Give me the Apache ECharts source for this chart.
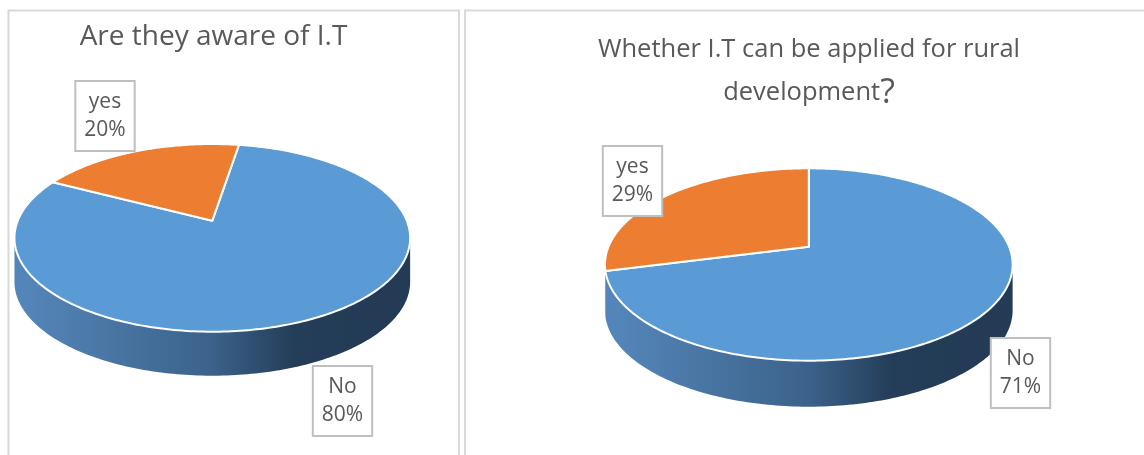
<!DOCTYPE html>
<html>
<head>
<meta charset="utf-8">
<title>IT awareness survey</title>
<script src="https://cdn.jsdelivr.net/npm/echarts@6/dist/echarts.min.js"></script>
<style>
  html, body { margin: 0; padding: 0; background: #ffffff; }
  #chart { width: 1144px; height: 455px; }
</style>
</head>
<body>
<div id="chart"></div>
<script>
// Survey answers (percent of respondents)
const categories = ['No', 'yes'];
const awareValues = [80, 20];
const ruralValues = [71, 29];
const awareTitle = 'Are they aware of I.T';
const ruralTitle = 'Whether I.T can be applied for rural\ndevelopment{q|?}';

// Layout of each tilted pie: centre, radii, perspective, thickness, first-slice angle
const pieLayouts = [
  { cx: 212.3, cy: 220.7, rx: 194.5, ry: 90.7, q: 0.183, depth: 44, start: 279.3,
    labels: [[342.5, 401], [105, 116]] },
  { cx: 808.8, cy: 246.7, rx: 200.3, ry: 92.9, q: 0.185, depth: 46, start: 270,
    labels: [[1020.5, 373], [632.5, 181]] }
];

const topColors = ['#5B9BD5', '#ED7D31'];
const wallStops = [
  [[0, '#5485B8'], [0.5, '#3B628A'], [0.72, '#243D58'], [1, '#233B55']],
  [[0, '#C56A2C'], [0.5, '#9A5220'], [0.72, '#6E3914'], [1, '#6A3713']]
];
const textColor = '#595959';
const fontFamily = '"Open Sans", "Noto Sans", sans-serif';

// Point on the rim of a tilted disc; angle in degrees, clockwise from 3 o'clock
function project(g, deg, dz) {
  const t = deg * Math.PI / 180;
  const s = Math.sin(t), c = Math.cos(t);
  const w = 1 / (1 - g.q * s);
  return [g.cx + g.rx * c * w, g.cy + g.ry * s * w + dz];
}

function rim(g, a0, a1, dz) {
  const pts = [];
  const n = Math.max(2, Math.ceil(Math.abs(a1 - a0)));
  for (let i = 0; i <= n; i++) {
    pts.push(project(g, a0 + (a1 - a0) * i / n, dz));
  }
  return pts;
}

function makeRenderer(values, g) {
  const total = values.reduce((a, b) => a + b, 0);
  const front0 = Math.asin(g.q) * 180 / Math.PI;
  const front1 = 180 - front0;
  // horizontal extent of the disc, used for the side-wall shading
  const xl = project(g, 180 + front0, 0)[0];
  const xr = project(g, -front0, 0)[0];

  return function (params, api) {
    const idx = params.dataIndex;
    const value = api.value(0);
    let before = 0;
    for (let i = 0; i < idx; i++) before += values[i];
    let a0 = g.start + before / total * 360;
    const span = value / total * 360;
    a0 = ((a0 % 360) + 360) % 360;
    const a1 = a0 + span;

    const children = [];

    // front side wall (only the part facing the viewer)
    [[front0, front1], [front0 + 360, front1 + 360]].forEach(function (r) {
      const b0 = Math.max(a0, r[0]);
      const b1 = Math.min(a1, r[1]);
      if (b1 > b0) {
        const pts = rim(g, b0, b1, 0).concat(rim(g, b1, b0, g.depth));
        children.push({
          type: 'polygon',
          z2: 1,
          shape: { points: pts },
          style: {
            fill: {
              type: 'linear', x: xl, y: 0, x2: xr, y2: 0, global: true,
              colorStops: wallStops[idx].map(function (st) { return { offset: st[0], color: st[1] }; })
            },
            stroke: null
          }
        });
      }
    });

    // top face of the slice
    const topPts = [[g.cx, g.cy]].concat(rim(g, a0, a1, 0));
    children.push({
      type: 'polygon',
      z2: 5,
      shape: { points: topPts },
      style: { fill: topColors[idx], stroke: '#ffffff', lineWidth: 2, lineJoin: 'round' }
    });

    // boxed data label
    const pct = Math.round(value / total * 100);
    const pos = g.labels[idx];
    children.push({
      type: 'text',
      z2: 10,
      x: pos[0],
      y: pos[1],
      style: {
        text: categories[idx] + '\n' + pct + '%',
        fill: textColor,
        fontSize: 21,
        fontFamily: fontFamily,
        lineHeight: 28,
        align: 'center',
        verticalAlign: 'middle',
        backgroundColor: '#ffffff',
        borderColor: '#BFBFBF',
        borderWidth: 2,
        padding: [6, 8]
      }
    });

    return { type: 'group', children: children };
  };
}

function seriesFor(values, g, name) {
  return {
    type: 'custom',
    name: name,
    coordinateSystem: 'none',
    renderItem: makeRenderer(values, g),
    data: values.map(function (v, i) { return { name: categories[i], value: [v, i] }; }),
    silent: true,
    animation: false
  };
}

const chart = echarts.init(document.getElementById('chart'), null, { renderer: 'canvas' });
chart.setOption({
  backgroundColor: '#ffffff',
  animation: false,
  graphic: [
    { type: 'rect', z: -1, shape: { x: 8.5, y: 10.5, width: 450.5, height: 470 },
      style: { fill: '#ffffff', stroke: '#D9D9D9', lineWidth: 2 } },
    { type: 'rect', z: -1, shape: { x: 465, y: 10.5, width: 700, height: 470 },
      style: { fill: '#ffffff', stroke: '#D9D9D9', lineWidth: 2 } },
    { type: 'text', x: 213.5, y: 37, z: 5,
      style: { text: awareTitle, fill: textColor, fontSize: 28, fontFamily: fontFamily,
               align: 'center', verticalAlign: 'middle' } },
    { type: 'text', x: 809, y: 71.5, z: 5,
      style: { text: ruralTitle, fill: textColor, fontSize: 25.5, fontFamily: fontFamily,
               lineHeight: 43, align: 'center', verticalAlign: 'middle',
               rich: { q: { fontSize: 34, fontFamily: fontFamily, fill: textColor, lineHeight: 43 } } } }
  ],
  series: [
    seriesFor(awareValues, pieLayouts[0], 'Are they aware of I.T'),
    seriesFor(ruralValues, pieLayouts[1], 'Whether I.T can be applied for rural development?')
  ]
});
</script>
</body>
</html>
